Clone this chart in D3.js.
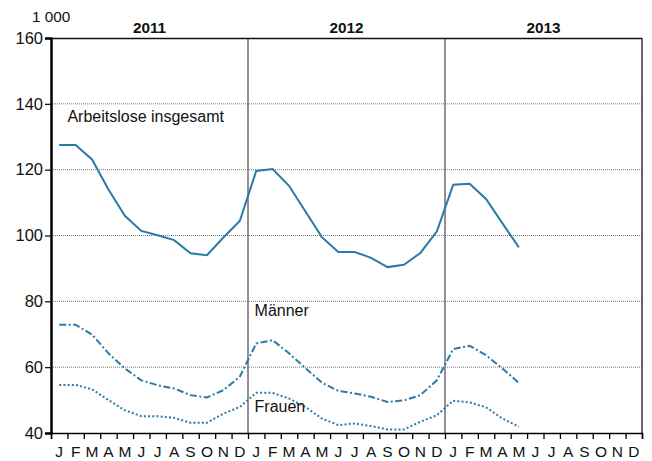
<!DOCTYPE html>
<html>
<head>
<meta charset="utf-8">
<script src="https://cdn.jsdelivr.net/npm/d3@7"></script>
<style>
	body { margin: 0; background: #fff; }
	text { font-family: "Liberation Sans", Arial, sans-serif; fill: #111; }
</style>
</head>
<body>
<div id="chart"></div>
<script>
// data in 1 000, monthly Jan 2011 .. May 2013
const years = ["2011", "2012", "2013"];
const monthLabels = ["J", "F", "M", "A", "M", "J", "J", "A", "S", "O", "N", "D"];
const yTicks = [40, 60, 80, 100, 120, 140, 160];

const insgesamt = [127.5, 127.5, 123.1, 114.0, 106.0, 101.4, 100.1, 98.6, 94.6, 94.0, 99.4, 104.4,
	119.6, 120.2, 115.1, 107.3, 99.5, 95.0, 95.0, 93.2, 90.4, 91.1, 94.7, 101.2,
	115.4, 115.7, 111.1, 103.7, 96.4];
const maenner = [72.9, 72.9, 69.9, 64.2, 59.6, 56.0, 54.5, 53.5, 51.5, 50.8, 53.0, 57.1,
	67.2, 68.2, 64.2, 59.7, 55.3, 52.8, 52.0, 51.0, 49.4, 49.9, 51.5, 56.0,
	65.5, 66.5, 63.6, 59.6, 55.2];
const frauen = [54.6, 54.6, 53.3, 50.0, 46.9, 45.1, 45.1, 44.6, 43.1, 43.1, 45.9, 47.9,
	52.2, 52.2, 50.5, 47.9, 44.4, 42.4, 42.9, 42.1, 41.1, 41.1, 43.4, 45.4,
	49.8, 49.3, 47.8, 44.4, 41.9];

const margin = { top: 38, right: 10, bottom: 28, left: 51 };
const W = 652, H = 461;
const width = W - margin.left - margin.right;
const height = H - margin.top - margin.bottom;
const nMonths = years.length * 12;

const svg = d3.select("#chart")
	.append("svg")
	.attr("width", W)
	.attr("height", H);
const g = svg.append("g")
	.attr("transform", `translate(${margin.left},${margin.top})`);

const x = d3.scaleLinear().domain([0, nMonths]).range([0, width]);
const y = d3.scaleLinear().domain([40, 160]).range([height, 0]);

// horizontal grid
g.append("g")
	.selectAll("line")
	.data(yTicks.filter(d => d > 40 && d < 160))
	.join("line")
	.attr("x1", 0).attr("x2", width)
	.attr("y1", d => y(d)).attr("y2", d => y(d))
	.attr("stroke", "#777")
	.attr("stroke-width", 1)
	.attr("stroke-dasharray", "1,1");

// year dividers
g.append("g")
	.selectAll("line")
	.data(d3.range(1, years.length))
	.join("line")
	.attr("x1", d => x(d * 12)).attr("x2", d => x(d * 12))
	.attr("y1", 0).attr("y2", height)
	.attr("stroke", "#6e6e6e")
	.attr("stroke-width", 1.5);

// frame top/right
g.append("line").attr("x1", 0).attr("x2", width).attr("y1", 0.5).attr("y2", 0.5)
	.attr("stroke", "#111").attr("stroke-width", 1.5);
g.append("line").attr("x1", width).attr("x2", width).attr("y1", 0).attr("y2", height)
	.attr("stroke", "#333").attr("stroke-width", 1.5);

// y axis
const yAxis = g.append("g")
	.call(d3.axisLeft(y).tickValues(yTicks).tickSize(6).tickPadding(2));
yAxis.select(".domain").attr("stroke", "#000").attr("stroke-width", 2.5);
yAxis.selectAll(".tick line").attr("stroke", "#000").attr("stroke-width", 1.2);
yAxis.selectAll(".tick text").attr("font-size", "16.5px")
	.style("font-family", "Liberation Sans, Arial, sans-serif").attr("fill", "#111");

// x axis: ticks at month boundaries, labels at month centres
const xAxis = g.append("g")
	.attr("transform", `translate(0,${height})`)
	.call(d3.axisBottom(x).tickValues(d3.range(0, nMonths + 1)).tickSize(6).tickFormat(""));
xAxis.select(".domain").attr("stroke", "#000").attr("stroke-width", 1.5);
xAxis.selectAll(".tick line").attr("stroke", "#000").attr("stroke-width", 1.3);

g.append("g")
	.selectAll("text")
	.data(d3.range(nMonths))
	.join("text")
	.attr("x", d => x(d + 0.5))
	.attr("y", height + 24)
	.attr("text-anchor", "middle")
	.attr("font-size", "15.5px")
	.text(d => monthLabels[d % 12]);

// year labels
g.append("g")
	.selectAll("text")
	.data(years)
	.join("text")
	.attr("x", (d, i) => x(i * 12 + 6))
	.attr("y", -5.5)
	.attr("text-anchor", "middle")
	.attr("font-size", "15.3px")
	.attr("font-weight", "bold")
	.text(d => d);

// unit label
svg.append("text")
	.attr("x", 32).attr("y", 21.5)
	.attr("font-size", "15.3px")
	.text("1 000");

// lines
const line = d3.line()
	.x((d, i) => x(i + 0.5))
	.y(d => y(d));

const col = "#2a7aa8";
g.append("path").datum(insgesamt)
	.attr("d", line).attr("fill", "none")
	.attr("stroke", col).attr("stroke-width", 2);
g.append("path").datum(maenner)
	.attr("d", line).attr("fill", "none")
	.attr("stroke", col).attr("stroke-width", 2)
	.attr("stroke-dasharray", "7,2.5,2,2.5");
g.append("path").datum(frauen)
	.attr("d", line).attr("fill", "none")
	.attr("stroke", col).attr("stroke-width", 2)
	.attr("stroke-dasharray", "2,2.2");

// series labels
const labels = [
	{ text: "Arbeitslose insgesamt", m: 1.0, v: 134.6 },
	{ text: "Männer", m: 12.4, v: 75.5 },
	{ text: "Frauen", m: 12.4, v: 46.5 }
];
g.append("g")
	.selectAll("text")
	.data(labels)
	.join("text")
	.attr("x", d => x(d.m))
	.attr("y", d => y(d.v))
	.attr("font-size", "16px")
	.text(d => d.text);
</script>
</body>
</html>
